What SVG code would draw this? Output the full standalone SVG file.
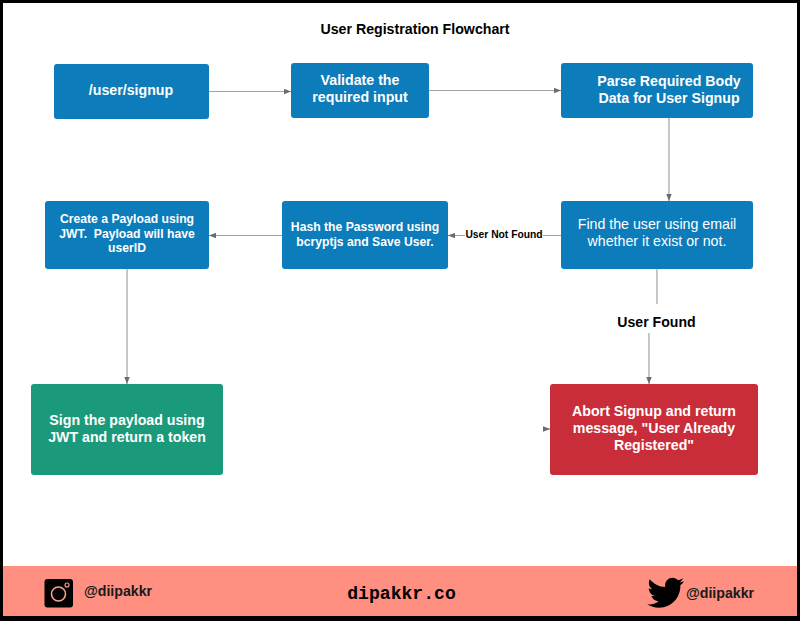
<svg xmlns="http://www.w3.org/2000/svg" width="800" height="621" viewBox="0 0 800 621">
<style>
text{font-family:"Liberation Sans",Arial,sans-serif;text-anchor:middle;fill:#fff}
.b{font-weight:700}
.n{rx:3px;ry:3px}
.blue{fill:#0c7cba}
.c{stroke:#a3a3a3;stroke-width:1.200;fill:none}
.lbl{fill:#000;font-weight:700}
</style>
<defs><marker id="a" markerWidth="8" markerHeight="6" refX="7" refY="3" orient="auto" markerUnits="userSpaceOnUse"><path d="M0 0.300L7 3L0 5.700z" fill="#6b6b6b"/></marker></defs>
<rect width="800" height="621" fill="#000"/>
<rect x="3" y="3" width="794" height="613" fill="#fff"/>
<rect x="3" y="566" width="794" height="50" fill="#ff8f80"/>
<text x="415" y="34" class="lbl" font-size="14.200">User Registration Flowchart</text>
<g id="connectors">
<path class="c" marker-end="url(#a)" d="M209 91.500H291"/>
<path class="c" marker-end="url(#a)" d="M429 90.500H561"/>
<path class="c" marker-end="url(#a)" d="M669 118V201"/>
<path class="c" marker-end="url(#a)" d="M561 235.500H448"/>
<path class="c" marker-end="url(#a)" d="M282 235.500H209"/>
<path class="c" marker-end="url(#a)" d="M127 269V384"/>
<path class="c" d="M657 269V304"/>
<path class="c" marker-end="url(#a)" d="M649 333V384"/>
<path class="c" marker-end="url(#a)" d="M543 429H550" />
<rect x="465" y="227" width="78" height="14" fill="#fff"/>
<text x="504" y="237.500" class="lbl" font-size="10.300">User Not Found</text>
<text x="656.500" y="327" class="lbl" font-size="14.100">User Found</text>
</g>
<g id="n1"><rect class="n blue" x="54" y="64" width="155" height="55"/><text x="131" y="95" class="b" font-size="14.200">/user/signup</text></g>
<g id="n2"><rect class="n blue" x="291" y="63" width="138" height="55"/><text x="360" y="85" class="b" font-size="14.200">Validate the</text><text x="360" y="102" class="b" font-size="14.200">required input</text></g>
<g id="n3"><rect class="n blue" x="561" y="63" width="192" height="55"/><text x="669" y="86" class="b" font-size="14.200">Parse Required Body</text><text x="669" y="103" class="b" font-size="14.200">Data for User Signup</text></g>
<g id="n4"><rect class="n blue" x="561" y="201" width="192" height="68"/><text x="657" y="229" font-size="14.200">Find the user using email</text><text x="657" y="246" font-size="14.200">whether it exist or not.</text></g>
<g id="n5"><rect class="n blue" x="282" y="201" width="166" height="68"/><text x="365" y="231" class="b" font-size="12.200">Hash the Password using</text><text x="365" y="246" class="b" font-size="12.200">bcryptjs and Save User.</text></g>
<g id="n6"><rect class="n blue" x="45" y="201" width="164" height="68"/><text x="127" y="223" class="b" font-size="12.200">Create a Payload using</text><text x="127" y="238" class="b" font-size="12.200" xml:space="preserve">JWT.  Payload will have</text><text x="127" y="252" class="b" font-size="12.200">userID</text></g>
<g id="n7"><rect class="n" fill="#1a9a7a" x="31" y="384" width="192" height="91"/><text x="127" y="425" class="b" font-size="14.200">Sign the payload using</text><text x="127" y="442" class="b" font-size="14.200">JWT and return a token</text></g>
<g id="n8"><rect class="n" fill="#c92d39" x="550" y="384" width="208" height="91"/><text x="654" y="416" class="b" font-size="14.200">Abort Signup and return</text><text x="654" y="433" class="b" font-size="14.200">message, "User Already</text><text x="654" y="450" class="b" font-size="14.200">Registered"</text></g>
<g id="footer">
<rect x="44.500" y="579" width="28.500" height="28.500" rx="3" fill="#000"/>
<circle cx="58.500" cy="594" r="7" fill="none" stroke="#ff9d8f" stroke-width="1.600"/>
<circle cx="67" cy="585" r="2" fill="none" stroke="#ff9d8f" stroke-width="1.100"/>
<text x="118" y="596" class="b" font-size="14.200" style="fill:#1a1a1a">@diipakkr</text>
<text x="401.500" y="599" font-size="18.100" style="font-family:'Liberation Mono',monospace;font-weight:700;fill:#000">dipakkr.co</text>
<path fill="#000" transform="translate(-61.600 -55.300) scale(1.090)" d="M684 584c-1.300.6-2.600.9-4 1.100 1.400-.9 2.500-2.200 3-3.800-1.300.8-2.800 1.400-4.400 1.700-1.300-1.400-3.100-2.200-5-2.200-3.800 0-6.900 3.100-6.900 6.900 0 .5 0 1.100.2 1.600-5.700-.3-10.800-3-14.200-7.200-.6 1-.9 2.200-.9 3.500 0 2.400 1.200 4.500 3.100 5.800-1.100 0-2.200-.3-3.100-.9v.1c0 3.300 2.400 6.100 5.500 6.800-.6.200-1.200.2-1.800.2-.4 0-.9 0-1.300-.1.900 2.700 3.400 4.700 6.500 4.800-2.400 1.900-5.400 3-8.600 3-.6 0-1.100 0-1.700-.1 3.100 2 6.700 3.100 10.600 3.100 12.700 0 19.700-10.500 19.700-19.700v-.9c1.300-1 2.500-2.200 3.400-3.600z"/>
<text x="720" y="598" class="b" font-size="14.200" style="fill:#1a1a1a">@diipakkr</text>
</g>
</svg>
